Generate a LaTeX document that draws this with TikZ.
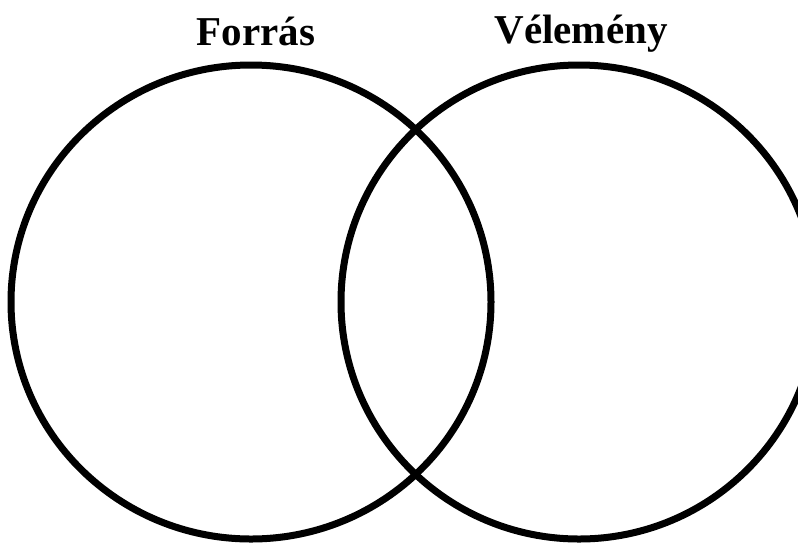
\documentclass[tikz,border=0pt]{standalone}
\usepackage{fontspec}
\setmainfont{Liberation Serif}
\begin{document}
\begin{tikzpicture}[x=1pt,y=-1pt,
  ring/.style={line width=7pt,draw=black},
  title/.style={font=\fontsize{41}{46}\selectfont\bfseries,anchor=base,inner sep=0pt}]
\useasboundingbox (0,0) rectangle (798,542);
\clip (0,0) rectangle (798,542);
\fill[white] (0,0) rectangle (798,542);
\node[title] (forras) at (256,45) {Forrás};
\node[title] (velemeny) at (581,43) {Vélemény};
\coordinate (cl) at (251,302);
\coordinate (cr) at (579,302);
\draw[ring] (cl) ellipse [x radius=240, y radius=237];
\draw[ring] (cr) ellipse [x radius=238, y radius=237];
\end{tikzpicture}
\end{document}
